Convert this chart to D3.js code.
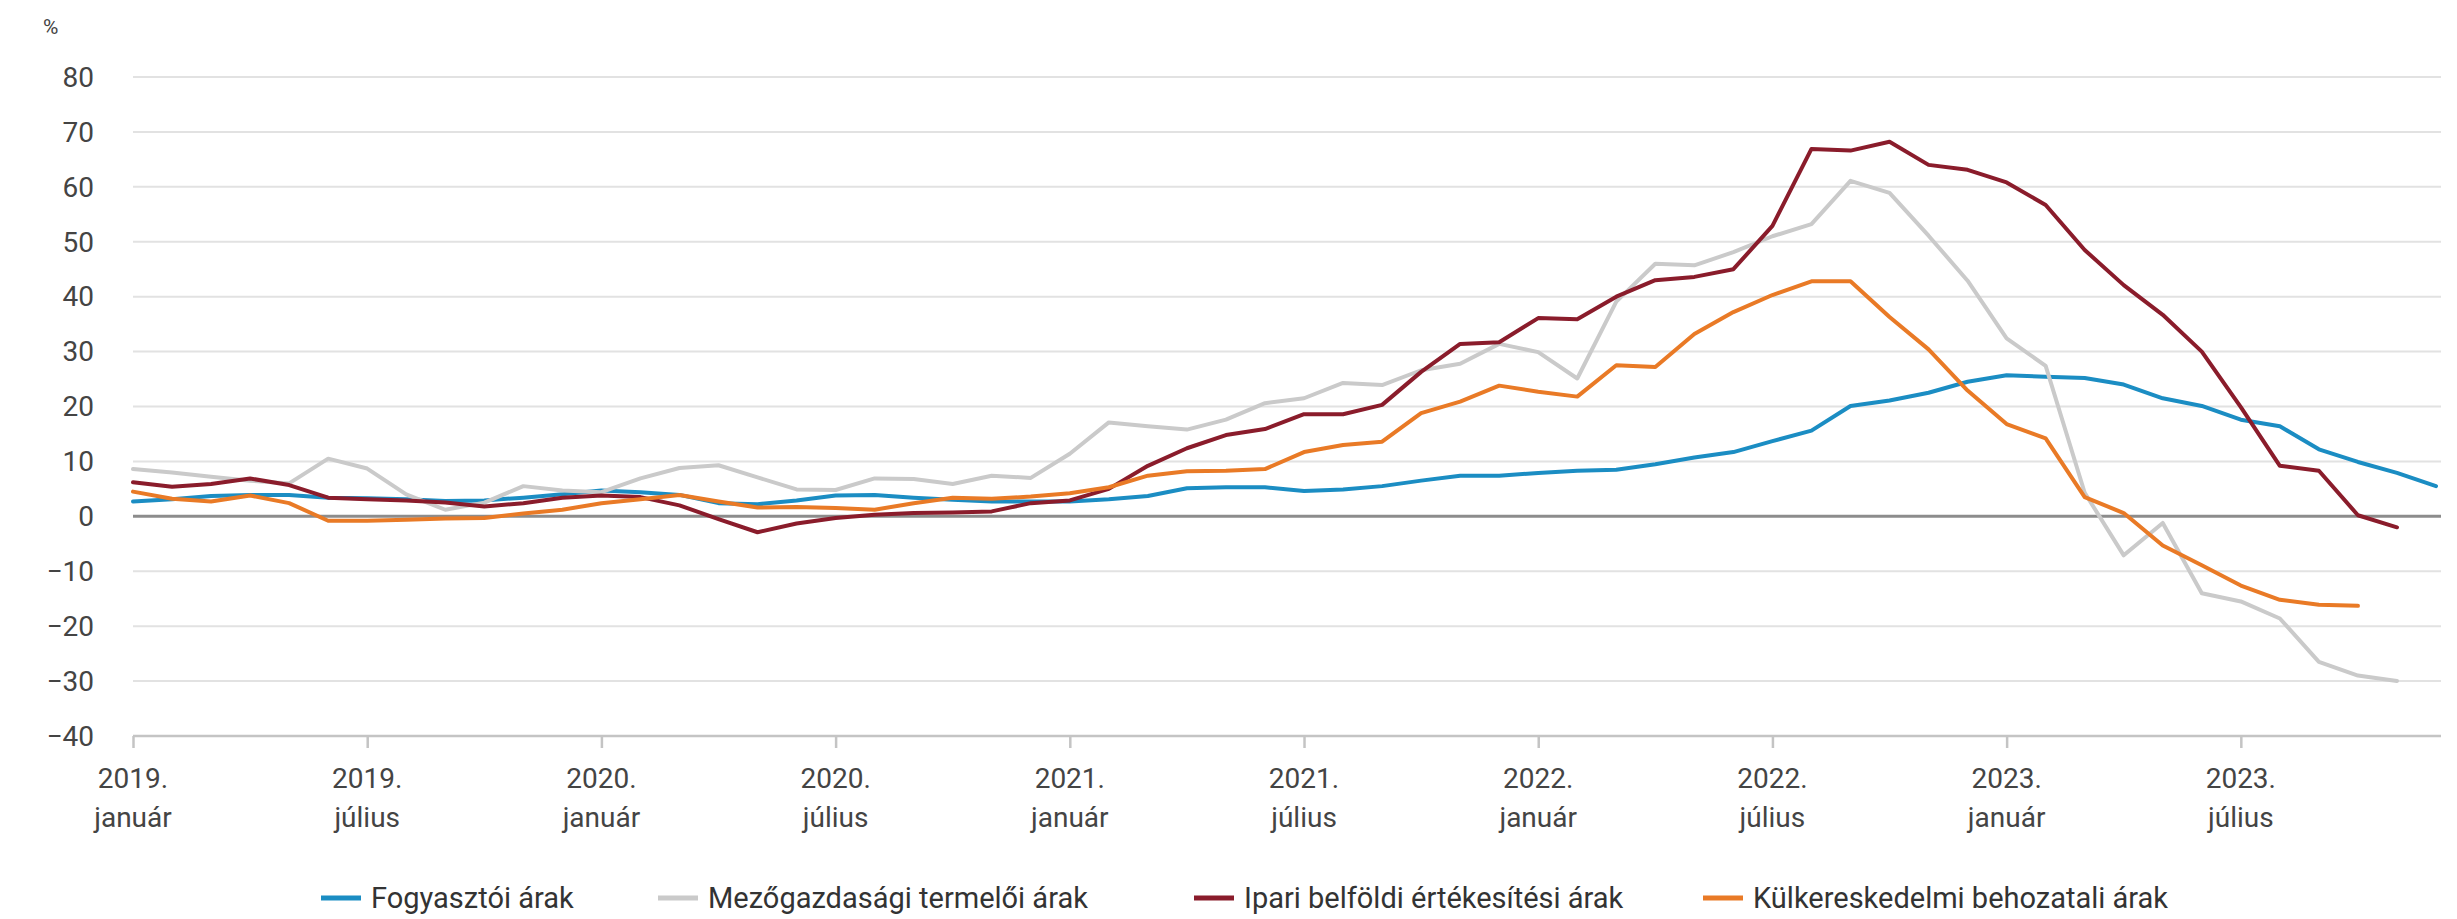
<!DOCTYPE html>
<html>
<head>
<meta charset="utf-8">
<script src="https://cdn.jsdelivr.net/npm/d3@7"></script>
<style>
  html, body { margin: 0; padding: 0; background: #fff; }
  svg text { font-family: Roboto, "Noto Sans", sans-serif; }
</style>
</head>
<body>
<svg id="chart" width="2457" height="919"></svg>
<script>
// months Jan 2019 .. Dec 2023
const years = [2019, 2020, 2021, 2022, 2023];
const monthNames = ["január", "február", "március", "április", "május", "június",
  "július", "augusztus", "szeptember", "október", "november", "december"];
const months = [];
years.forEach(y => monthNames.forEach((m, i) => months.push({ year: y, month: i, name: m })));

const yTicks = [-40, -30, -20, -10, 0, 10, 20, 30, 40, 50, 60, 70, 80];

const fogyasztoi = [
  2.7, 3.1, 3.7, 3.9, 3.9, 3.4, 3.3, 3.1, 2.8, 2.9, 3.4, 4.0,
  4.7, 4.4, 3.9, 2.4, 2.2, 2.9, 3.8, 3.9, 3.4, 3.0, 2.7, 2.7,
  2.7, 3.1, 3.7, 5.1, 5.3, 5.3, 4.6, 4.9, 5.5, 6.5, 7.4, 7.4,
  7.9, 8.3, 8.5, 9.5, 10.7, 11.7, 13.7, 15.6, 20.1, 21.1, 22.5, 24.5,
  25.7, 25.4, 25.2, 24.0, 21.5, 20.1, 17.6, 16.4, 12.2, 9.9, 7.9, 5.5
];
const mezogazdasagi = [
  8.6, 8.0, 7.2, 6.5, 6.0, 10.5, 8.7, 4.0, 1.2, 2.5, 5.5, 4.7,
  4.4, 6.9, 8.8, 9.3, 7.1, 4.9, 4.8, 6.9, 6.8, 5.9, 7.4, 7.0,
  11.4, 17.1, 16.4, 15.8, 17.6, 20.6, 21.5, 24.3, 23.9, 26.6, 27.8, 31.4,
  29.9, 25.1, 39.1, 46.0, 45.7, 48.1, 51.0, 53.2, 61.1, 58.9, 51.1, 42.9,
  32.4, 27.4, 4.3, -7.1, -1.2, -14.0, -15.5, -18.6, -26.5, -29.0, -30.0
];
const ipari = [
  6.2, 5.4, 5.9, 6.9, 5.7, 3.4, 3.1, 2.9, 2.5, 1.8, 2.4, 3.4,
  3.8, 3.5, 2.0, -0.5, -2.9, -1.3, -0.3, 0.3, 0.6, 0.7, 0.9, 2.4,
  2.9, 5.0, 9.2, 12.4, 14.8, 15.9, 18.6, 18.6, 20.3, 26.3, 31.4, 31.7,
  36.1, 35.9, 40.0, 43.0, 43.6, 45.0, 52.9, 66.9, 66.6, 68.2, 64.0, 63.1,
  60.8, 56.7, 48.5, 42.1, 36.7, 30.0, 19.9, 9.2, 8.3, 0.2, -2.0
];
const behozatali = [
  4.5, 3.2, 2.7, 3.8, 2.4, -0.8, -0.8, -0.6, -0.4, -0.3, 0.5, 1.2,
  2.4, 3.1, 3.9, 2.7, 1.6, 1.7, 1.5, 1.2, 2.4, 3.4, 3.2, 3.6,
  4.2, 5.3, 7.4, 8.2, 8.3, 8.6, 11.7, 13.0, 13.6, 18.8, 20.9, 23.8,
  22.7, 21.8, 27.5, 27.2, 33.2, 37.2, 40.3, 42.8, 42.8, 36.3, 30.4, 22.9,
  16.8, 14.2, 3.5, 0.6, -5.3, -8.9, -12.6, -15.2, -16.1, -16.3
];

const seriesNames = ["Fogyasztói árak", "Mezőgazdasági termelői árak",
  "Ipari belföldi értékesítési árak", "Külkereskedelmi behozatali árak"];
const seriesValues = [fogyasztoi, mezogazdasagi, ipari, behozatali];
const colors = ["#1b8dc3", "#cacaca", "#8a1c2b", "#e97a26"];

const svg = d3.select("#chart");

const x = d3.scalePoint()
  .domain(d3.range(months.length))
  .range([133, 2436]);

const y = d3.scaleLinear()
  .domain([-40, 80])
  .range([736, 77]);

const gridRight = 2441;

// gridlines
svg.append("g")
  .selectAll("line")
  .data(yTicks.filter(t => t !== 0 && t !== -40))
  .enter()
  .append("line")
  .attr("x1", 133)
  .attr("x2", gridRight)
  .attr("y1", d => y(d))
  .attr("y2", d => y(d))
  .attr("stroke", "#e2e2e2")
  .attr("stroke-width", 2);

// y labels
svg.append("g")
  .selectAll("text")
  .data(yTicks)
  .enter()
  .append("text")
  .attr("x", 94)
  .attr("y", d => y(d))
  .attr("dy", "0.35em")
  .attr("text-anchor", "end")
  .attr("font-size", "28px")
  .attr("fill", "#444")
  .text(d => d < 0 ? "\u2212" + Math.abs(d) : d);

svg.append("text")
  .attr("x", 43)
  .attr("y", 34)
  .attr("font-size", "21px")
  .attr("fill", "#444")
  .text("%");

// bottom axis
const xTickIdx = d3.range(0, months.length, 6);
const xAxis = d3.axisBottom(x)
  .tickValues(xTickIdx)
  .tickSize(12)
  .tickFormat("");
const gx = svg.append("g")
  .attr("transform", "translate(0," + y(-40) + ")")
  .call(xAxis);
gx.select(".domain")
  .attr("d", "M133,0H" + gridRight)
  .attr("stroke", "#c4c4c4")
  .attr("stroke-width", 2.5);
gx.selectAll(".tick line").attr("stroke", "#c4c4c4").attr("stroke-width", 2.5);

const xl = svg.append("g")
  .selectAll("text")
  .data(xTickIdx)
  .enter()
  .append("text")
  .attr("text-anchor", "middle")
  .attr("font-size", "28px")
  .attr("fill", "#444")
  .attr("x", i => x(i));
xl.append("tspan")
  .attr("x", i => x(i))
  .attr("y", 788)
  .text(i => months[i].year + ".");
xl.append("tspan")
  .attr("x", i => x(i))
  .attr("y", 827)
  .text(i => months[i].name);

// zero line
svg.append("line")
  .attr("x1", 133)
  .attr("x2", gridRight)
  .attr("y1", y(0))
  .attr("y2", y(0))
  .attr("stroke", "#8c8c8c")
  .attr("stroke-width", 3);

// series lines
const line = d3.line()
  .x((d, i) => x(i))
  .y(d => y(d));

svg.append("g")
  .selectAll("path")
  .data(seriesValues)
  .enter()
  .append("path")
  .attr("d", d => line(d))
  .attr("fill", "none")
  .attr("stroke", (d, i) => colors[i])
  .attr("stroke-width", 4)
  .attr("stroke-linejoin", "round")
  .attr("stroke-linecap", "round");

// legend
const legendX = [321, 658, 1194, 1703];
const legend = svg.append("g")
  .selectAll("g")
  .data(seriesNames)
  .enter()
  .append("g")
  .attr("transform", (d, i) => "translate(" + legendX[i] + ",898)");
legend.append("line")
  .attr("x1", 0)
  .attr("x2", 40)
  .attr("stroke", (d, i) => colors[i])
  .attr("stroke-width", 5);
legend.append("text")
  .attr("x", 50)
  .attr("dy", "0.35em")
  .attr("font-size", "29px")
  .attr("fill", "#333")
  .text(d => d);
</script>
</body>
</html>
